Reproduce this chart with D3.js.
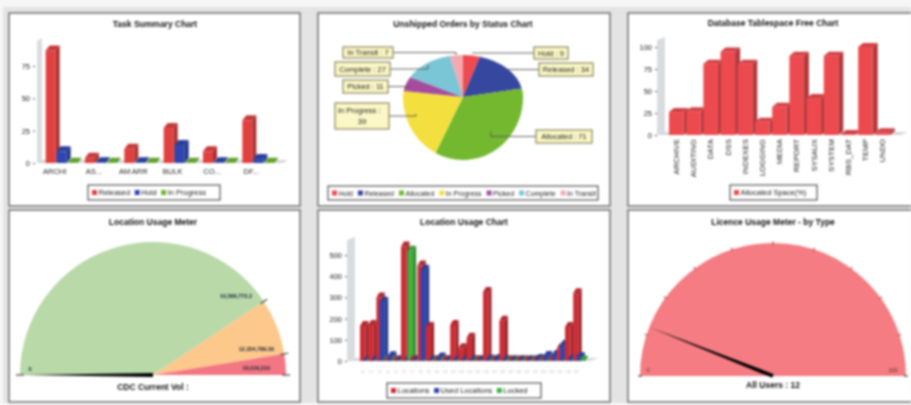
<!DOCTYPE html>
<html>
<head>
<meta charset="utf-8">
<script src="https://cdn.jsdelivr.net/npm/d3@7"></script>
<style>
  html, body { margin: 0; padding: 0; background: #f6f6f6; overflow: hidden; }
  svg { display: block; filter: blur(0.8px); font-family: "Liberation Sans", sans-serif; }
  .axis path { stroke: #999; }
  .axis line { stroke: #555; }
  .axis text { font-size: 7.5px; fill: #222; }
</style>
</head>
<body>
<div id="chart"></div>
<script>
// Data
const taskCategories = ["ARCHI", "AS...", "AM ARR", "BULK", "CO...", "DF..."];
const taskReleased = [87, 4, 11, 27, 9, 33];
const taskHold = [9, 0.5, 0.5, 14, 0.5, 3];
const taskInProgress = [0.2, 0.2, 0.2, 0.2, 0.2, 0.2];
const taskTicks = [0, 25, 50, 75];

const orderStatus = ["Hold", "Released", "Allocated", "In Progress", "Picked", "Complete", "In Transit"];
const orderCounts = [9, 34, 71, 39, 11, 27, 7];

const tablespaceNames = ["ARCHIVE", "AUDITING", "DATA", "DSS", "INDEXES", "LOGGING", "MEDIA", "REPORT", "SYSAUX", "SYSTEM", "RBS_DAT", "TEMP", "UNDO"];
const tablespaceFree = [26, 27, 81, 95, 81, 15, 32, 90, 42, 90, 1, 100, 3];
const tablespaceTicks = [0, 25, 50, 75, 100];

const locationNames = d3.range(1, 28).map((d) => "L" + d);
const locationTotal = [165, 170, 300, 4, 2, 540, 3, 450, 160, 4, 3, 170, 60, 110, 3, 325, 4, 190, 2, 2, 2, 4, 6, 8, 60, 160, 320];
const locationUsed = [2, 2, 280, 22, 2, 2, 2, 430, 2, 16, 2, 3, 3, 3, 2, 6, 10, 4, 2, 2, 2, 10, 24, 28, 75, 10, 18];
const locationLocked = [1, 1, 1, 1, 1, 520, 1, 1, 1, 1, 1, 1, 1, 1, 1, 1, 1, 1, 1, 1, 1, 1, 1, 1, 1, 1, 1];
const locationTicks = [0, 100, 200, 300, 400, 500];

const volumeThresholds = [0, 10586773.2, 12354789.36, 13016210];
const volumeLabels = ["0", "10,586,773.2", "12,354,789.36", "13,016,210"];
const volumeNeedle = 0;
const licenceRange = [0, 100];
const licenceTicks = d3.range(0, 101, 10);
const licenceNeedle = 12;

// Colours
const red = "#e0403f", blue = "#2f46b0", green = "#6cb82e";
const pieColors = ["#ee4a50", "#35479f", "#73b82f", "#f3e03e", "#a64c9e", "#7ac6d6", "#f3a9b2"];

const width = 911, height = 405;
const svg = d3.select("#chart").append("svg").attr("width", width).attr("height", height);

svg.append("rect").attr("x", 3).attr("y", 7).attr("width", width).attr("height", 396).attr("fill", "#e4e4e4");

// Panels
const panels = [
  { x: 9, y: 13, w: 291, h: 193 },
  { x: 318, y: 13, w: 292, h: 193 },
  { x: 628, y: 13, w: 290, h: 193 },
  { x: 9, y: 210, w: 291, h: 192 },
  { x: 318, y: 210, w: 292, h: 192 },
  { x: 628, y: 210, w: 290, h: 192 }
];
panels.forEach((p) => {
  svg.append("rect").attr("x", p.x).attr("y", p.y).attr("width", p.w).attr("height", p.h)
    .attr("fill", "white").attr("stroke", "#777").attr("stroke-width", 1.6);
});

function title(text, x, y) {
  svg.append("text").attr("x", x).attr("y", y).attr("text-anchor", "middle")
    .style("font-size", "8.5px").style("font-weight", "bold").attr("fill", "#111").text(text);
}

function legend(items, colors, box) {
  const g = svg.append("g");
  g.append("rect").attr("x", box.x).attr("y", box.y).attr("width", box.w).attr("height", box.h)
    .attr("fill", "white").attr("stroke", "#333").attr("stroke-width", 1);
  let x = box.x + 4;
  items.forEach((d, i) => {
    g.append("rect").attr("x", x).attr("y", box.y + box.h / 2 - 2.5).attr("width", 5).attr("height", 5).attr("fill", colors[i]);
    const t = g.append("text").attr("x", x + 6.5).attr("y", box.y + box.h / 2 + 2.5)
      .style("font-size", box.font || "7.5px").attr("fill", "#222").text(d);
    x += t.node().getComputedTextLength() + (box.gap || 11);
  });
}

// 3D bar, front + top + side
function bar3d(g, x, y, w, baseY, color, dx, dy) {
  const dark = d3.color(color).darker(0.8);
  const light = d3.color(color).darker(0.35);
  g.append("path")
    .attr("d", `M${x + w},${y}L${x + w + dx},${y - dy}L${x + w + dx},${baseY - dy}L${x + w},${baseY}Z`)
    .attr("fill", dark);
  g.append("path")
    .attr("d", `M${x},${y}L${x + dx},${y - dy}L${x + w + dx},${y - dy}L${x + w},${y}Z`)
    .attr("fill", light);
  g.append("rect").attr("x", x).attr("y", y).attr("width", w).attr("height", baseY - y).attr("fill", color);
}

function wall(g, x0, x1, top, base, right, dy) {
  g.append("path").attr("d", `M${x0},${top + dy}L${x1},${top}L${x1},${base - dy}L${x0},${base}Z`).attr("fill", "#d9dcdf");
  g.append("path").attr("d", `M${x0},${base}L${x1},${base - dy}L${right},${base - dy}L${right - (x1 - x0)},${base}Z`).attr("fill", "#d4d6d8");
}

// Task Summary Chart
{
  title("Task Summary Chart", 155, 27);
  const g = svg.append("g");
  const xScale = d3.scaleBand().domain(taskCategories).range([35, 271]);
  const yScale = d3.scaleLinear().domain([0, 75]).range([163, 66]);
  wall(g, 37, 42, 38, 163, 288, 3);
  const series = [[taskReleased, red], [taskHold, blue], [taskInProgress, green]];
  taskCategories.forEach((c, i) => {
    series.forEach(([values, color], s) => {
      const x = xScale(c) + xScale.bandwidth() / 2 - 9 + s * 11;
      bar3d(g, x, yScale(values[i]), 10, yScale(0), color, 4, 5);
    });
  });
  const yAxis = d3.axisLeft(yScale).tickValues(taskTicks).tickSize(2);
  svg.append("g").attr("class", "axis").attr("transform", "translate(35,0)").call(yAxis).select("path").remove();
  svg.append("g").selectAll("text").data(taskCategories).join("text")
    .attr("x", (d) => xScale(d) + xScale.bandwidth() / 2).attr("y", 174).attr("text-anchor", "middle")
    .style("font-size", "7.5px").attr("fill", "#222").text((d) => d);
  legend(["Released", "Hold", "In Progress"], [red, blue, green], { x: 88, y: 185, w: 132, h: 15 });
}

// Unshipped Orders by Status Chart
{
  title("Unshipped Orders by Status Chart", 463, 27);
  const cx = 463, cy = 97, rx = 60, topRy = 42, bottomRy = 63;
  const pie = d3.pie().sort(null)(orderCounts);
  const arc = d3.arc().innerRadius(0).outerRadius(1);
  const defs = svg.append("defs");
  defs.append("clipPath").attr("id", "pieTop").append("rect").attr("x", cx - 70).attr("y", cy - 60).attr("width", 140).attr("height", 60.3);
  defs.append("clipPath").attr("id", "pieBottom").append("rect").attr("x", cx - 70).attr("y", cy).attr("width", 140).attr("height", 70);
  [["pieTop", topRy], ["pieBottom", bottomRy]].forEach(([clip, ry]) => {
    svg.append("g").attr("clip-path", `url(#${clip})`)
      .append("g").attr("transform", `translate(${cx},${cy}) scale(${rx},${ry})`)
      .selectAll("path").data(pie).join("path")
      .attr("d", arc).attr("fill", (d, i) => pieColors[i]);
  });

  const boxes = [
    { x: 534, y: 47, w: 34, h: 12, lx: 472, ly: 53 },
    { x: 539, y: 63, w: 54, h: 13, lx: 505, ly: 69 },
    { x: 536, y: 130, w: 56, h: 13, lx: 491, ly: 132 },
    { x: 335, y: 103, w: 54, h: 26, lx: 416, ly: 114 },
    { x: 343, y: 80, w: 45, h: 13, lx: 410, ly: 87 },
    { x: 335, y: 62, w: 55, h: 14, lx: 428, ly: 65 },
    { x: 343, y: 47, w: 50, h: 11, lx: 456, ly: 55 }
  ];
  orderStatus.forEach((name, i) => {
    const b = boxes[i];
    const leftSide = b.x < cx;
    const startX = leftSide ? b.x + b.w : b.x;
    svg.append("path")
      .attr("d", `M${startX},${b.y + b.h / 2}L${b.lx},${b.y + b.h / 2}L${b.lx},${b.ly}`)
      .attr("fill", "none").attr("stroke", "#555").attr("stroke-width", 0.9);
    svg.append("rect").attr("x", b.x).attr("y", b.y).attr("width", b.w).attr("height", b.h)
      .attr("fill", "#fbf7c6").attr("stroke", "#8a865a").attr("stroke-width", 1.2);
    if (name === "In Progress") {
      svg.append("text").attr("x", b.x + 3).attr("y", b.y + 10).style("font-size", "7.5px").attr("fill", "#222").text(name + " :");
      svg.append("text").attr("x", b.x + b.w / 2).attr("y", b.y + 21).attr("text-anchor", "middle").style("font-size", "7.5px").attr("fill", "#222").text(orderCounts[i]);
    } else {
      svg.append("text").attr("x", b.x + b.w / 2).attr("y", b.y + b.h / 2 + 2.5).attr("text-anchor", "middle")
        .style("font-size", "7.5px").attr("fill", "#222").text(`${name} : ${orderCounts[i]}`);
    }
  });
  legend(orderStatus, pieColors, { x: 328, y: 186, w: 270, h: 14, font: "7px", gap: 11.5 });
}

// Database Tablespace Free Chart
{
  title("Database Tablespace Free Chart", 773, 26);
  const g = svg.append("g");
  const xScale = d3.scaleBand().domain(tablespaceNames).range([669, 892.6]);
  const yScale = d3.scaleLinear().domain([0, 100]).range([135, 47]);
  wall(g, 657, 665, 37, 135, 908, 3);
  tablespaceNames.forEach((c, i) => {
    bar3d(g, xScale(c), yScale(tablespaceFree[i]), 14.5, yScale(0), "#ec4a4e", 5, 4);
  });
  const yAxis = d3.axisLeft(yScale).tickValues(tablespaceTicks).tickSize(2);
  svg.append("g").attr("class", "axis").attr("transform", "translate(657,0)").call(yAxis).select("path").remove();
  svg.append("g").selectAll("text").data(tablespaceNames).join("text")
    .attr("transform", (d) => `translate(${xScale(d) + 10},139) rotate(-90)`)
    .attr("text-anchor", "end").style("font-size", "8px").attr("fill", "#222").text((d) => d);
  legend(["Allocated Space(%)"], ["#ec4a4e"], { x: 730, y: 185, w: 87, h: 15 });
}

// Meter, half circle from left to right
function dial(domain) {
  return d3.scaleLinear().domain(domain).range([-Math.PI / 2, Math.PI / 2]);
}
function tickMark(g, cx, cy, r, angle, inner, outer, color) {
  g.append("line")
    .attr("x1", cx + (r + inner) * Math.sin(angle)).attr("y1", cy - (r + inner) * Math.cos(angle))
    .attr("x2", cx + (r + outer) * Math.sin(angle)).attr("y2", cy - (r + outer) * Math.cos(angle))
    .attr("stroke", color).attr("stroke-width", 1.1);
}
function needle(g, cx, cy, len, angle) {
  const nx = Math.cos(angle) * 2, ny = Math.sin(angle) * 2;
  const tipX = cx + len * Math.sin(angle), tipY = cy - len * Math.cos(angle);
  g.append("path").attr("d", `M${cx - nx},${cy - ny}L${tipX},${tipY}L${cx + nx},${cy + ny}Z`).attr("fill", "black");
}

// Location Usage Meter
{
  title("Location Usage Meter", 153, 225);
  const cx = 153, cy = 375, r = 133;
  const g = svg.append("g");
  const angle = dial([volumeThresholds[0], volumeThresholds[3]]);
  const bandColors = ["#b9d9a9", "#fcc88c", "#f27782"];
  const arc = d3.arc().innerRadius(0).outerRadius(r);
  d3.pairs(volumeThresholds).forEach(([a, b], i) => {
    g.append("path").attr("transform", `translate(${cx},${cy})`)
      .attr("d", arc({ startAngle: angle(a), endAngle: angle(b) })).attr("fill", bandColors[i]);
  });
  volumeThresholds.forEach((v) => tickMark(g, cx, cy, r, angle(v), -4, 4, "#333"));
  needle(g, cx, cy, 130, angle(volumeNeedle));
  const labelPos = [[30, 371, "middle"], [252, 298, "end"], [274, 351, "end"], [270, 370, "end"]];
  volumeLabels.forEach((d, i) => {
    g.append("text").attr("x", labelPos[i][0]).attr("y", labelPos[i][1]).attr("text-anchor", labelPos[i][2])
      .style("font-size", "5.5px").style("font-weight", "bold").attr("fill", "#123").text(d);
  });
  title("CDC Current Vol :", 153, 390);
}

// Location Usage Chart
{
  title("Location Usage Chart", 464, 225);
  const g = svg.append("g");
  const xScale = d3.scaleBand().domain(locationNames).range([360, 581.4]);
  const yScale = d3.scaleLinear().domain([0, 500]).range([361, 255]);
  wall(g, 347, 355, 237, 361, 598, 3);
  const series = [[locationTotal, "#cb2c34"], [locationUsed, blue], [locationLocked, "#3fb43f"]];
  locationNames.forEach((c, i) => {
    series.forEach(([values, color], s) => {
      bar3d(g, xScale(c) + s * 3.3, yScale(values[i]), 5.5, yScale(0), color, 3, 5);
    });
  });
  const yAxis = d3.axisLeft(yScale).tickValues(locationTicks).tickSize(2);
  svg.append("g").attr("class", "axis").attr("transform", "translate(347,0)").call(yAxis).select("path").remove();
  svg.append("g").selectAll("text").data(locationNames).join("text")
    .attr("x", (d) => xScale(d) + 3).attr("y", 373).attr("text-anchor", "middle")
    .style("font-size", "3px").attr("fill", "#c9a7c0").text((d) => d);
  legend(["Locations", "Used Locations", "Locked"], ["#cb2c34", blue, "#3fb43f"], { x: 387, y: 383, w: 154, h: 15 });
}

// Licence Usage Meter - by Type
{
  title("Licence Usage Meter - by Type", 773, 225);
  const cx = 773, cy = 376, r = 133;
  const g = svg.append("g");
  const angle = dial(licenceRange);
  g.append("path").attr("transform", `translate(${cx},${cy})`)
    .attr("d", d3.arc().innerRadius(0).outerRadius(r)({ startAngle: angle(0), endAngle: angle(100) }))
    .attr("fill", "#f47c82");
  licenceTicks.forEach((v) => tickMark(g, cx, cy, r, angle(v), -2, 2, v % 100 === 0 ? "#333" : "#b05a60"));
  needle(g, cx, cy, 132, angle(licenceNeedle));
  g.append("text").attr("x", 648).attr("y", 372).attr("text-anchor", "middle").style("font-size", "5.5px").attr("fill", "#533").text(licenceRange[0]);
  g.append("text").attr("x", 893).attr("y", 372).attr("text-anchor", "middle").style("font-size", "5.5px").attr("fill", "#533").text(licenceRange[1]);
  title(`All Users : ${licenceNeedle}`, 773, 388);
}
</script>
</body>
</html>
